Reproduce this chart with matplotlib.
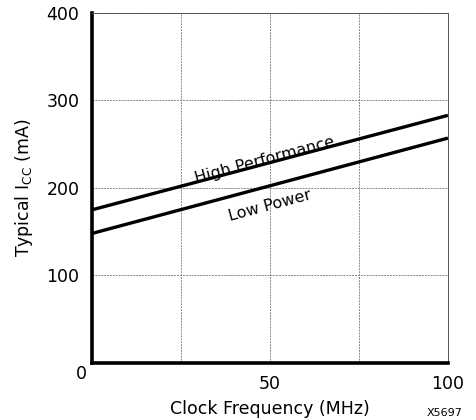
import matplotlib
matplotlib.use("Agg")
import matplotlib.pyplot as plt

plt.rcParams["font.family"] = ["DejaVu Sans"]
plt.rcParams["mathtext.fontset"] = "dejavusans"

# clock frequency (MHz) vs typical Icc (mA)
freq = [0, 100]
high_perf = [175, 283]
low_power = [148, 257]

x_ticks = [0, 25, 50, 75, 100]
x_labels = ["", "", "50", "", "100"]
y_ticks = [0, 100, 200, 300, 400]
y_labels = ["", "100", "200", "300", "400"]

fig = plt.figure(figsize=(4.77, 4.2), dpi=100)
ax = fig.add_axes([0.193, 0.136, 0.746, 0.833])

ax.plot(freq, high_perf, color="black", linewidth=2.4, solid_capstyle="butt")
ax.plot(freq, low_power, color="black", linewidth=2.4, solid_capstyle="butt")

ax.set_xlim(0, 100)
ax.set_ylim(0, 400)
ax.set_xticks(x_ticks)
ax.set_xticklabels(x_labels)
ax.set_yticks(y_ticks)
ax.set_yticklabels(y_labels)
ax.tick_params(axis="y", length=0, labelsize=12.5, pad=9)
ax.tick_params(axis="x", length=0, labelsize=12.5, pad=9)
ax.grid(True, color="#888888", linestyle=(0, (2, 1)), linewidth=0.7)

for side in ["left", "bottom"]:
    ax.spines[side].set_linewidth(2.6)
for side in ["top", "right"]:
    ax.spines[side].set_linewidth(0.7)
    ax.spines[side].set_linestyle((0, (2, 1)))
    ax.spines[side].set_color("#555555")

# corner zero label shared by both axes
ax.text(-1.5, -2, "0", ha="right", va="top", fontsize=12.5)

ax.text(48.5, 232, "High Performance", rotation=15, ha="center", va="center",
        fontsize=11.5)
ax.text(50, 180, "Low Power", rotation=15, ha="center", va="center",
        fontsize=11.5)

ax.set_xlabel("Clock Frequency (MHz)", fontsize=12.5, labelpad=5)
ax.set_ylabel("Typical I$_{\\mathrm{CC}}$ (mA)", fontsize=12.5, labelpad=8)

fig.text(0.933, 0.005, "X5697", fontsize=8, ha="center", va="bottom")

fig.savefig("out.png", dpi=100)
